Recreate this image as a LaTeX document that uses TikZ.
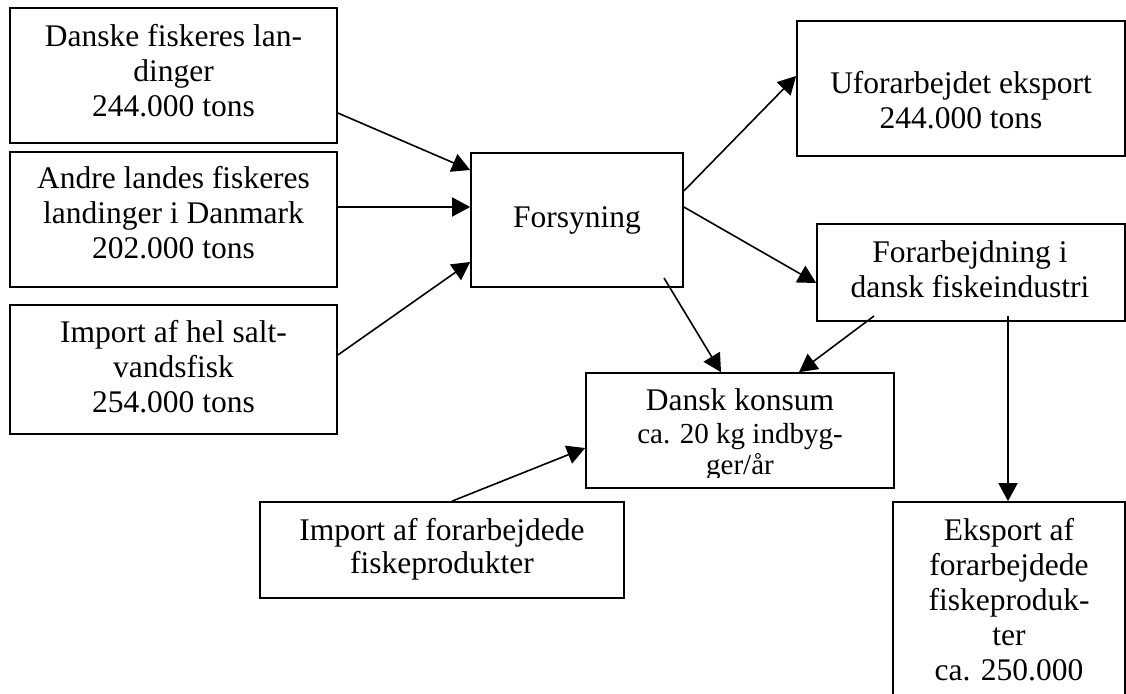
\documentclass[tikz,border=0pt]{standalone}
\usepackage{fontspec}
\setmainfont{Liberation Serif}
\usetikzlibrary{arrows.meta}
\newcommand{\lns}[1]{\begin{tabular}[t]{@{}c@{}}#1\end{tabular}}
\begin{document}
\begin{tikzpicture}[x=1pt,y=-1pt,
  boxst/.style={draw,line width=1.7pt,inner sep=0pt,rectangle},
  txt/.style={anchor=base,inner sep=0pt,font=\fontsize{31.5}{35}\selectfont},
  txtb/.style={anchor=base,inner sep=0pt,font=\fontsize{31.5}{33.5}\selectfont},
  txts/.style={anchor=base,inner sep=0pt,font=\fontsize{29}{31.5}\selectfont},
  arr/.style={line width=1.6pt,-{Triangle[length=18pt,width=19pt]}}]
\useasboundingbox (0,0) rectangle (1126,693);
\clip (0,0) rectangle (1126,693);
% boxes
\node[boxst,minimum width=327pt,minimum height=135pt] (b1) at (173.5,75.5) {};
\node[txt] at (173.5,47) {\lns{Danske fiskeres lan-\\dinger\\244.000 tons}};
\node[boxst,minimum width=327pt,minimum height=135pt] (b2) at (173.5,219.5) {};
\node[txt] at (173.5,188) {\lns{Andre landes fiskeres\\landinger i Danmark\\202.000 tons}};
\node[boxst,minimum width=327pt,minimum height=129pt] (b3) at (173.5,369.5) {};
\node[txt] at (173.5,342) {\lns{Import af hel salt-\\vandsfisk\\254.000 tons}};
\node[boxst,minimum width=212pt,minimum height=134pt] (fors) at (577,220) {};
\node[txt] at (577,227) {Forsyning};
\node[boxst,minimum width=328pt,minimum height=135pt] (ufor) at (961,88.5) {};
\node[txt] at (961,93) {\lns{Uforarbejdet eksport\\244.000 tons}};
\node[boxst,minimum width=308pt,minimum height=97pt] (forarb) at (971,272.5) {};
\node[txt] at (970,262) {\lns{Forarbejdning i\\dansk fiskeindustri}};
\node[boxst,minimum width=308pt,minimum height=115pt] (dansk) at (740,430.5) {};
\begin{scope}
\clip (586,373) rectangle (894,477);
\node[txt] at (740,410) {Dansk konsum};
\node[txts] at (740,443) {\lns{ca. 20 kg indbyg-\\ger/år}};
\end{scope}
\node[boxst,minimum width=364pt,minimum height=96pt] (impf) at (442,550) {};
\node[txtb] at (442,540) {\lns{Import af forarbejdede\\fiskeprodukter}};
\node[boxst,minimum width=232pt,minimum height=218pt] (eksp) at (1009,611) {};
\node[txt] at (1009,540) {\lns{Eksport af\\forarbejdede\\fiskeproduk-\\ter\\ca. 250.000}};
% arrows
\draw[arr] ([yshift=-37.5pt]b1.east) -- ([yshift=50pt]fors.west);
\draw[arr] ([yshift=12.5pt]b2.east) -- ([yshift=13pt]fors.west);
\draw[arr] ([yshift=14.5pt]b3.east) -- ([yshift=-42pt]fors.west);
\draw[arr] ([yshift=29pt]fors.east) -- ([yshift=12.5pt]ufor.west);
\draw[arr] ([yshift=13pt]fors.east) -- ([yshift=-10.5pt]forarb.west);
\draw[arr] ([xshift=87pt,yshift=-58pt]fors.center) -- ([xshift=-19pt]dansk.north);
\draw[arr] ([xshift=-97pt,yshift=-43.5pt]forarb.center) -- ([xshift=59pt]dansk.north);
\draw[arr] ([xshift=37pt,yshift=-43.5pt]forarb.center) -- ([xshift=-1pt]eksp.north);
\draw[arr] ([xshift=10pt]impf.north) -- ([yshift=-17.5pt]dansk.west);
\end{tikzpicture}
\end{document}
